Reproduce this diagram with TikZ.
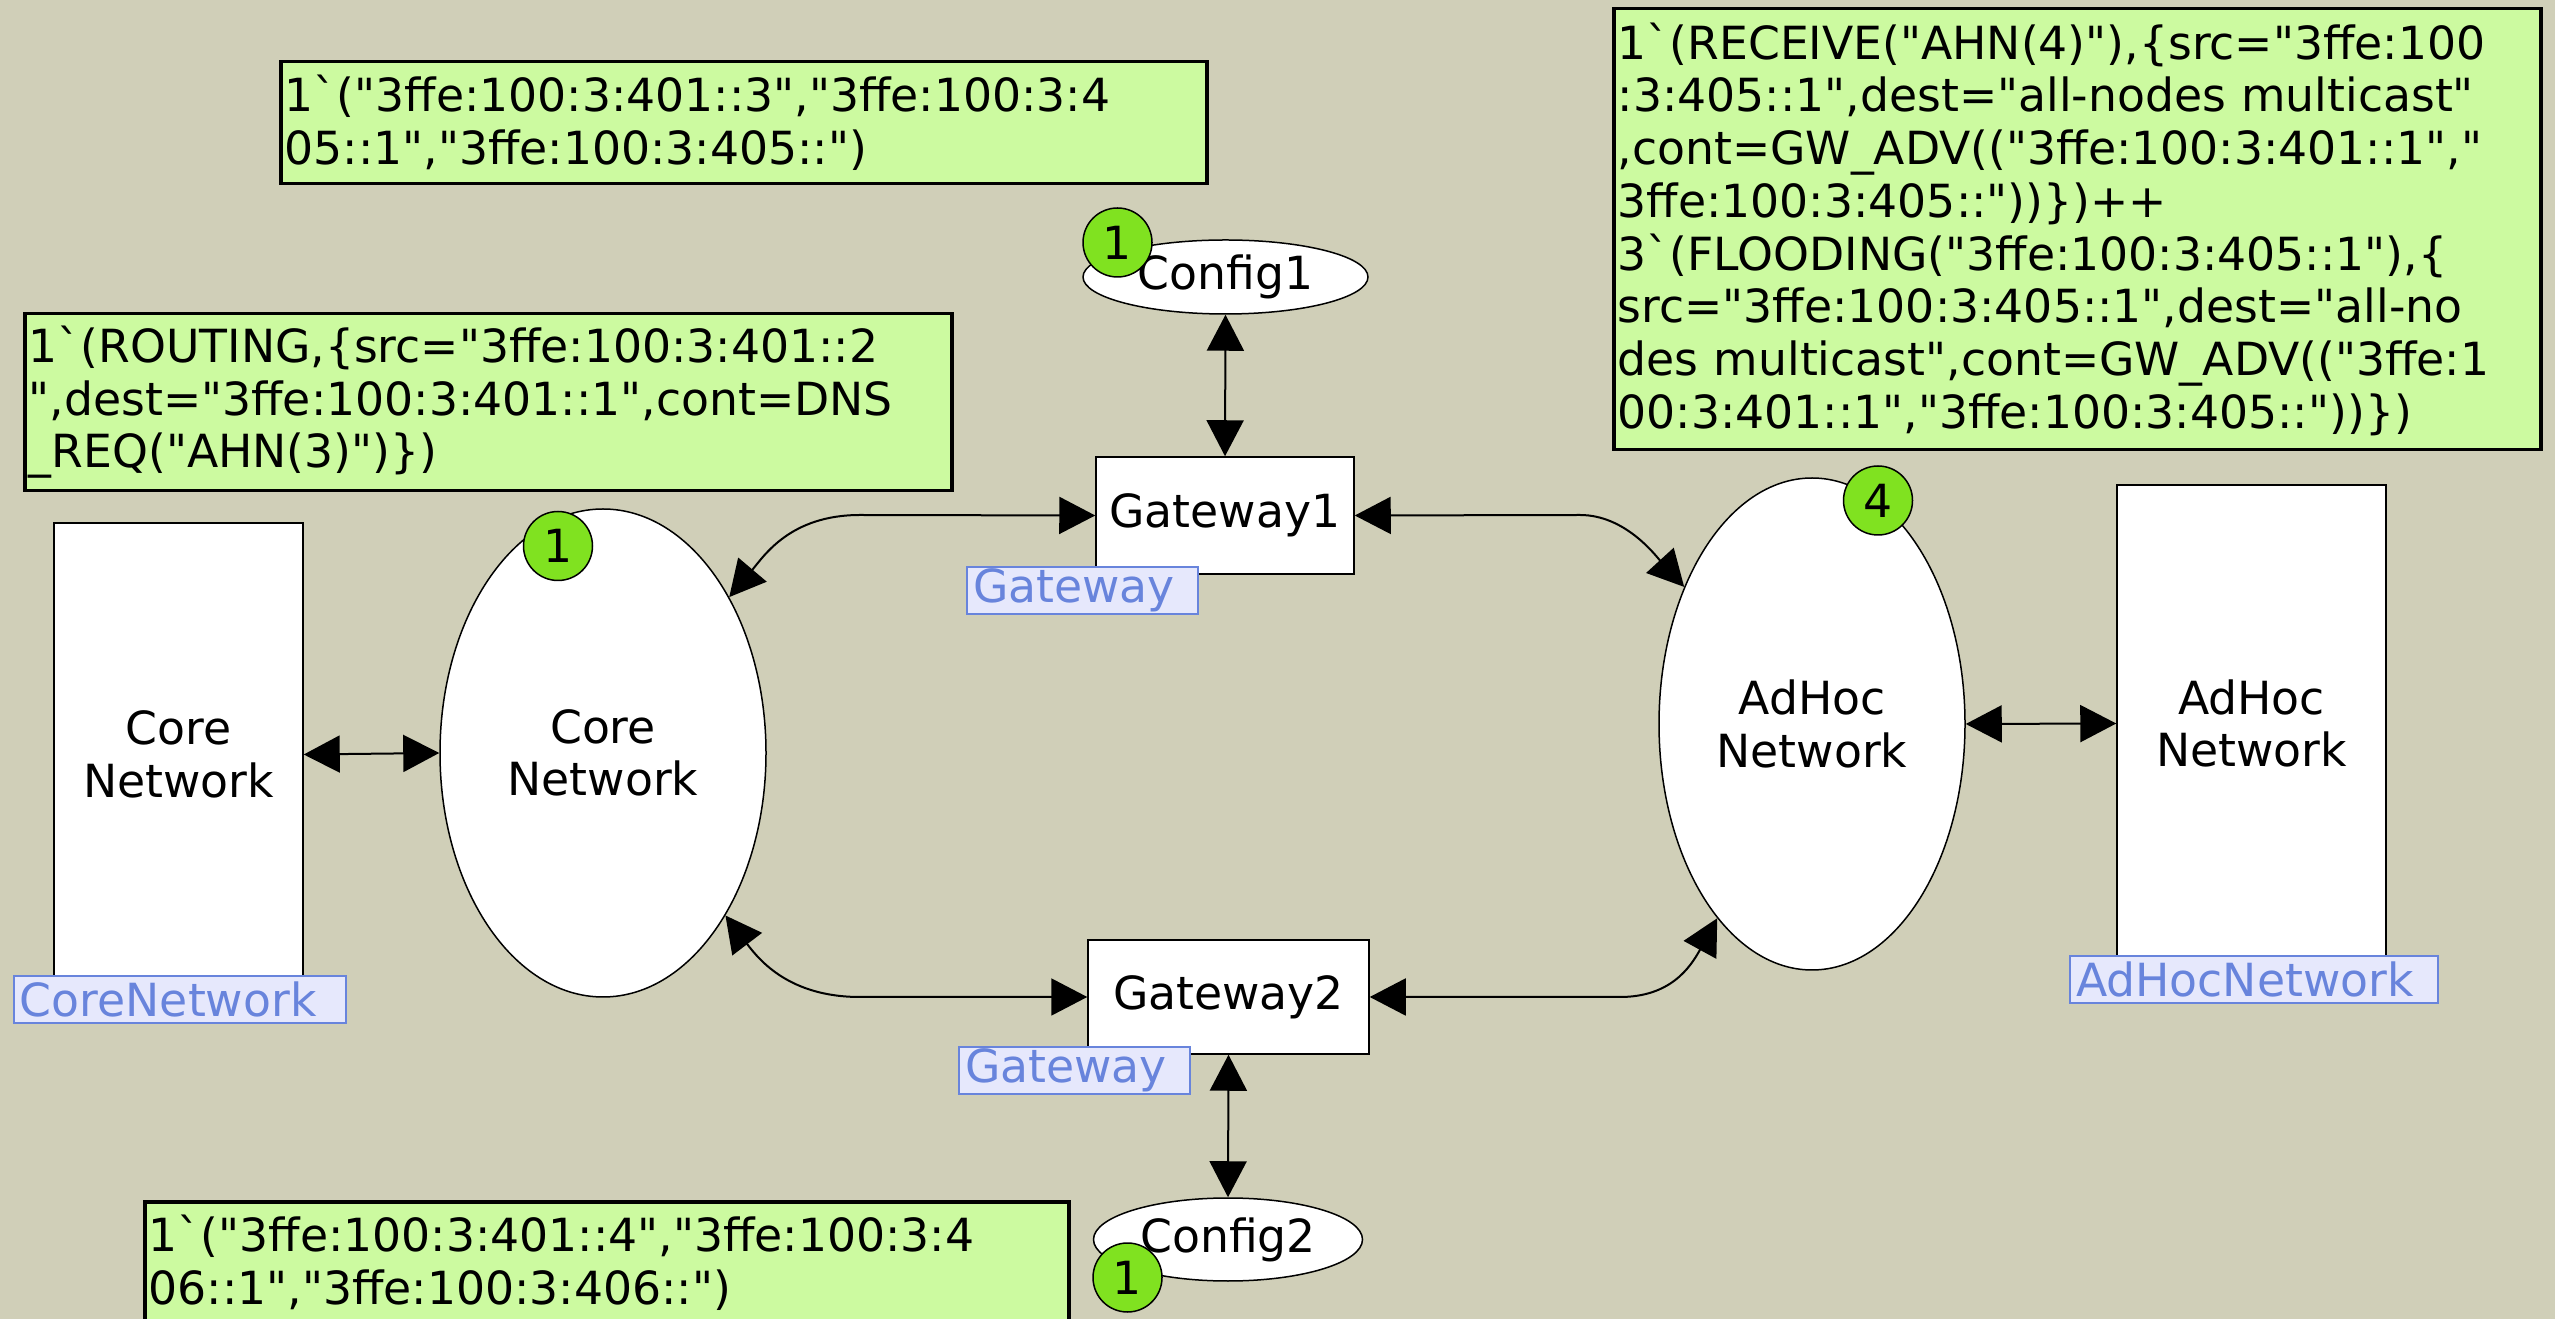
\documentclass[tikz,border=0pt]{standalone}
\usepackage{fontspec}
\setmainfont{DejaVu Sans}[Ligatures=TeXOff]
\usetikzlibrary{arrows.meta,shapes.geometric}
\definecolor{canvas}{RGB}{208,207,184}
\definecolor{inscrgreen}{RGB}{204,250,160}
\definecolor{tokengreen}{RGB}{128,226,32}
\definecolor{tagblue}{RGB}{104,132,220}
\definecolor{tagfill}{RGB}{230,232,252}

\begin{document}
\begin{tikzpicture}[x=0.1mm, y=-0.1mm,
	every node/.style={font=\fontsize{13pt}{15pt}\selectfont},
	place/.style={ellipse, draw, fill=white, line width=0.15mm, inner sep=0pt},
	trans/.style={rectangle, draw, fill=white, line width=0.15mm, inner sep=0pt},
	token/.style={circle, draw, fill=tokengreen, line width=0.15mm, minimum size=6.9mm, inner sep=0pt},
	inscr/.style={rectangle, draw, fill=inscrgreen, line width=0.35mm, anchor=north west, align=left, inner xsep=0.4mm, text width=#1},
	tag/.style={rectangle, draw=tagblue, fill=tagfill, text=tagblue, line width=0.2mm, anchor=north west, align=left, inner xsep=0.6mm, inner ysep=0pt, minimum height=4.7mm, text width=#1},
	arc/.style={{Triangle[length=3.6mm,width=3.7mm]}-{Triangle[length=3.6mm,width=3.7mm]}, line width=0.2mm}]
	\fill[canvas] (0,0) rectangle (2555,1319);
	\useasboundingbox (0,0) rectangle (2555,1319);
	\node[inscr=91.8mm, minimum height=12.2mm] (ivcfga) at (279,60) {1\textasciigrave("3ffe:100:3:401::3","3ffe:100:3:4\\05::1","3ffe:100:3:405::")};
	\node[inscr=91.9mm, minimum height=17.7mm] (ivroute) at (23,312) {1\textasciigrave(ROUTING,\{src="3ffe:100:3:401::2\\",dest="3ffe:100:3:401::1",cont=DNS\\\_REQ("AHN(3)")\})};
	\node[inscr=91.9mm, minimum height=44.1mm] (ivadhoc) at (1612,7) {1\textasciigrave(RECEIVE("AHN(4)"),\{src="3ffe:100\\:3:405::1",dest="all-nodes multicast"\\,cont=GW\_ADV(("3ffe:100:3:401::1","\\3ffe:100:3:405::"))\})++\\3\textasciigrave(FLOODING("3ffe:100:3:405::1"),\{\\src="3ffe:100:3:405::1",dest="all-no\\des multicast",cont=GW\_ADV(("3ffe:1\\00:3:401::1","3ffe:100:3:405::"))\})};
	\node[inscr=91.6mm, minimum height=12.2mm] (ivcfgb) at (143,1200) {1\textasciigrave("3ffe:100:3:401::4","3ffe:100:3:4\\06::1","3ffe:100:3:406::")};
	\node[trans, minimum width=24.9mm, minimum height=46.3mm, align=center] (cnrect) at (178.5,754.5) {Core\\Network};
	\node[place, minimum width=32.6mm, minimum height=48.8mm, align=center] (cnet) at (603,753) {Core\\Network};
	\node[trans, minimum width=25.8mm, minimum height=11.7mm] (gwa) at (1225,515.5) {Gateway1};
	\node[trans, minimum width=28.1mm, minimum height=11.4mm] (gwb) at (1228.5,997) {Gateway2};
	\node[place, minimum width=28.5mm, minimum height=7.4mm] (cfga) at (1225.5,277) {Config1};
	\node[place, minimum width=26.9mm, minimum height=8.3mm] (cfgb) at (1228,1239.5) {Config2};
	\node[place, minimum width=30.6mm, minimum height=49.2mm, align=center] (anet) at (1812,724) {AdHoc\\Network};
	\node[trans, minimum width=26.9mm, minimum height=47.7mm, align=center] (arect) at (2251.5,723.5) {AdHoc\\Network};
	\node[tag=21.9mm] (tgwa) at (966,566) {Gateway};
	\node[tag=21.9mm] (tgwb) at (958,1046) {Gateway};
	\node[tag=32mm] (tcn) at (13,975) {CoreNetwork};
	\node[tag=35.6mm] (tan) at (2069,955) {AdHocNetwork};
	\draw[arc] (cnrect.east) -- (cnet.west);
	\draw[arc] (anet.east) -- (arect.west);
	\draw[arc] (cfga.south) -- (gwa.north);
	\draw[arc] (gwb.south) -- (cfgb.north);
	\draw[arc] (cnet.51) .. controls (764,556) and (790,515) .. (860,515) -- (gwa.west);
	\draw[arc] (cnet.-53) .. controls (760,961) and (790,997) .. (860,997) -- (gwb.west);
	\draw[arc] (gwa.east) -- (1580,515) .. controls (1625,515) and (1655,555) .. (anet.133);
	\draw[arc] (gwb.east) -- (1620,997) .. controls (1670,997) and (1690,968) .. (anet.-116);
	\node[token] (tkcfga) at (1117.5,242.5) {1};
	\node[token] (tkcn) at (558,546) {1};
	\node[token] (tkan) at (1878,500.5) {4};
	\node[token] (tkcfgb) at (1127.5,1277.5) {1};
\end{tikzpicture}
\end{document}
